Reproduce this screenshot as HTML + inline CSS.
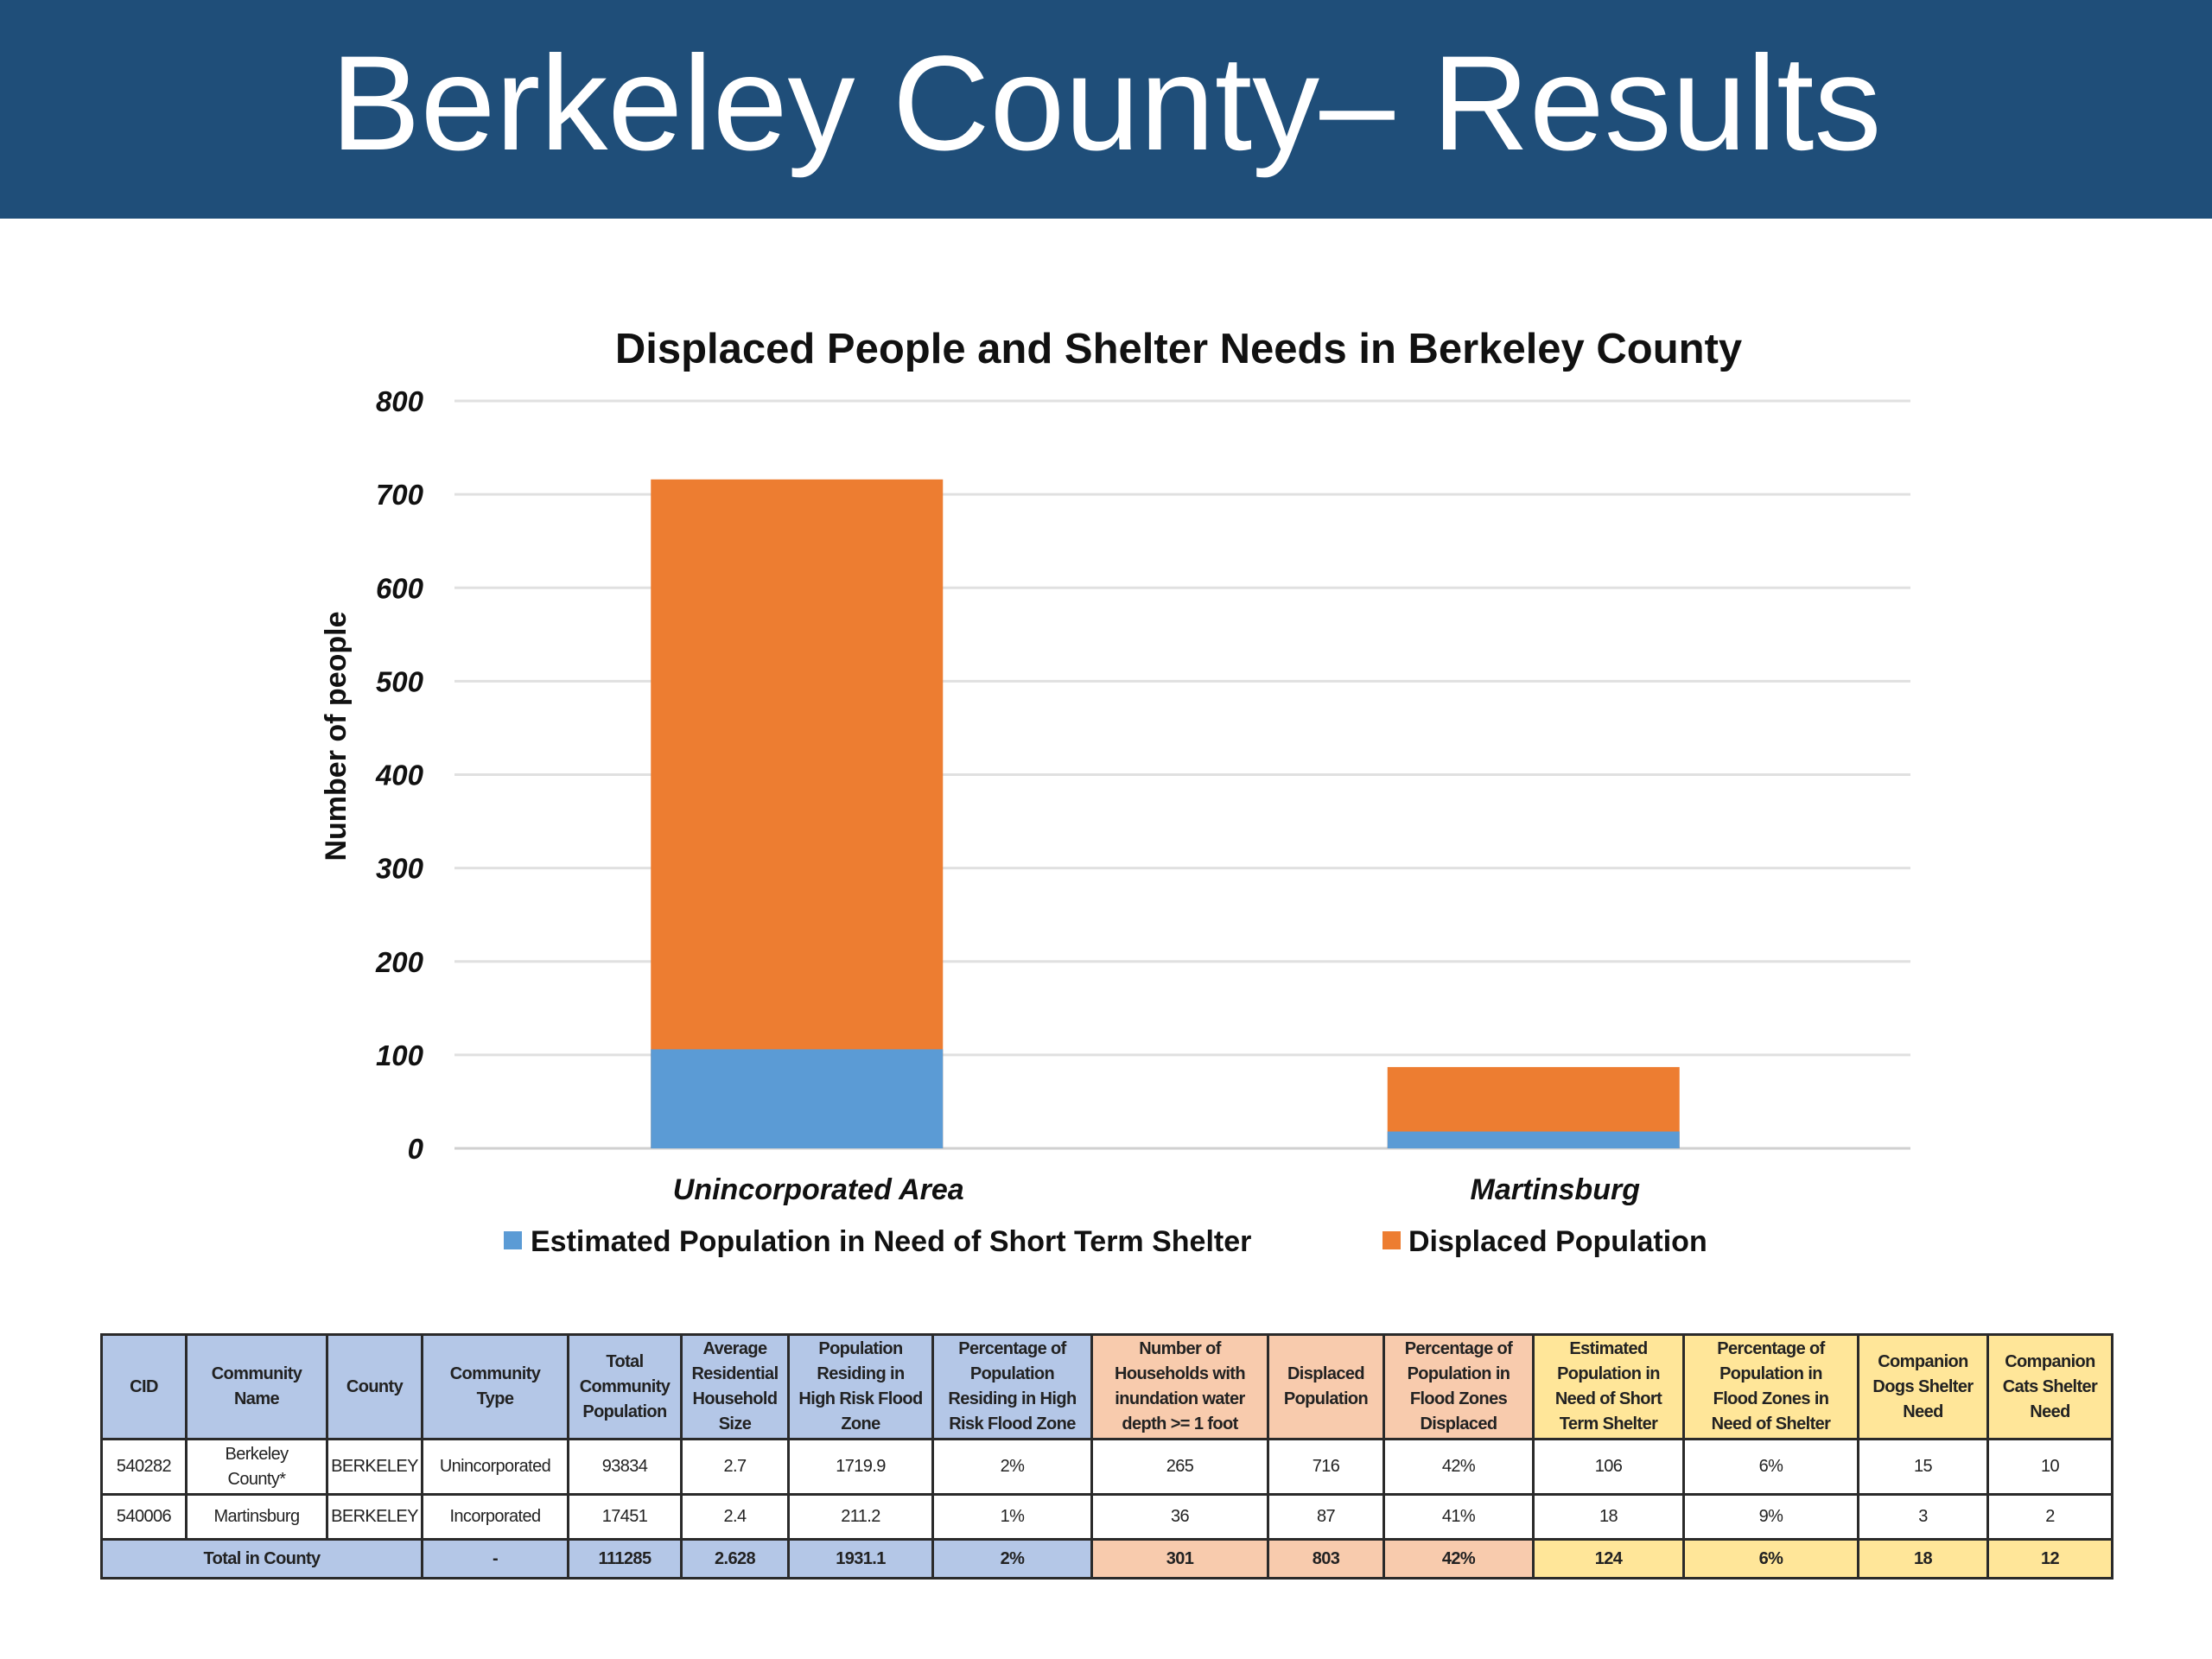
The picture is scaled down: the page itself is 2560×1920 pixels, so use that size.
<!DOCTYPE html>
<html><head><meta charset="utf-8">
<style>
body{margin:0;width:2560px;height:1920px;background:#fff;position:relative;overflow:hidden;font-family:"Liberation Sans",sans-serif}
#hdr{position:absolute;left:0;top:0;width:2560px;height:253px;background:#1f4e79;color:#fff;font-size:156px;text-align:center;line-height:240px}
#tbl{position:absolute;left:116px;top:1543px;border-collapse:collapse;table-layout:fixed;font-size:20px;letter-spacing:-0.6px;color:#222}
#tbl td{border:3px solid #2a2a2a;text-align:center;padding:0;line-height:29px;overflow:hidden;white-space:nowrap}
.b{background:#b4c7e7}.o{background:#f8cbad}.y{background:#ffe699}
.h td{font-weight:bold;height:118px}
.t td{font-weight:bold;height:42px}
</style></head><body>
<div id="hdr">Berkeley County– Results</div>
<svg id="chart" width="2560" height="1530" style="position:absolute;left:0;top:0"></svg>
<table id="tbl">
<colgroup><col style="width:98px"><col style="width:163px"><col style="width:110px"><col style="width:169px"><col style="width:131px"><col style="width:124px"><col style="width:167px"><col style="width:184px"><col style="width:204px"><col style="width:134px"><col style="width:173px"><col style="width:174px"><col style="width:202px"><col style="width:150px"><col style="width:144px"></colgroup>
<tr class="h"><td class="b">CID</td><td class="b">Community<br>Name</td><td class="b">County</td><td class="b">Community<br>Type</td><td class="b">Total<br>Community<br>Population</td><td class="b">Average<br>Residential<br>Household<br>Size</td><td class="b">Population<br>Residing in<br>High Risk Flood<br>Zone</td><td class="b">Percentage of<br>Population<br>Residing in High<br>Risk Flood Zone</td><td class="o">Number of<br>Households with<br>inundation water<br>depth &gt;= 1 foot</td><td class="o">Displaced<br>Population</td><td class="o">Percentage of<br>Population in<br>Flood Zones<br>Displaced</td><td class="y">Estimated<br>Population in<br>Need of Short<br>Term Shelter</td><td class="y">Percentage of<br>Population in<br>Flood Zones in<br>Need of Shelter</td><td class="y">Companion<br>Dogs Shelter<br>Need</td><td class="y">Companion<br>Cats Shelter<br>Need</td></tr>
<tr style="height:64px"><td>540282</td><td>Berkeley<br>County*</td><td>BERKELEY</td><td>Unincorporated</td><td>93834</td><td>2.7</td><td>1719.9</td><td>2%</td><td>265</td><td>716</td><td>42%</td><td>106</td><td>6%</td><td>15</td><td>10</td></tr>
<tr style="height:52px"><td>540006</td><td>Martinsburg</td><td>BERKELEY</td><td>Incorporated</td><td>17451</td><td>2.4</td><td>211.2</td><td>1%</td><td>36</td><td>87</td><td>41%</td><td>18</td><td>9%</td><td>3</td><td>2</td></tr>
<tr class="t"><td class="b" colspan="3">Total in County</td><td class="b">-</td><td class="b">111285</td><td class="b">2.628</td><td class="b">1931.1</td><td class="b">2%</td><td class="o">301</td><td class="o">803</td><td class="o">42%</td><td class="y">124</td><td class="y">6%</td><td class="y">18</td><td class="y">12</td></tr>
</table>
<script>
const categories=["Unincorporated Area","Martinsburg"];
const shelterValues=[106,18];
const displacedValues=[716,87];
const yTicks=[0,100,200,300,400,500,600,700,800];
const svg=document.getElementById('chart');
const NS='http://www.w3.org/2000/svg';
const x0=526,x1=2211,y0=1329,yTop=464,yMax=800;
const y=v=>y0-(v/yMax)*(y0-yTop);
const band=(x1-x0)/categories.length;
const bw=338;
const cx=i=>x0+band*(i+0.5)-25+ i*10;
function el(t,a,txt){const e=document.createElementNS(NS,t);for(const k in a)e.setAttribute(k,a[k]);if(txt!==undefined)e.textContent=txt;svg.appendChild(e);return e;}
let e=el('text',{x:1364,y:420,'font-size':49,'font-weight':'bold','text-anchor':'middle',fill:'#111'},'Displaced People and Shelter Needs in Berkeley County');


yTicks.forEach(t=>{
 const g=el('line',{x1:x0,x2:x1,y1:y(t),y2:y(t),stroke:t===0?'#d0d0d0':'#e0e0e0','stroke-width':3});
 
 
 const l=el('text',{x:490,y:y(t)+12,'font-size':33,'font-weight':'bold','font-style':'italic','text-anchor':'end',fill:'#111'},t);
 
 
});
e=el('text',{x:400,y:852,'font-size':34,'font-weight':'bold','text-anchor':'middle',fill:'#111',transform:'rotate(-90 400 852)'},'Number of people');


categories.forEach((c,i)=>{
 const xc=cx(i);
 const r1=el('rect',{x:xc-bw/2,y:y(displacedValues[i]),width:bw,height:y0-y(displacedValues[i]),fill:'#ed7d31'});
 
 
 const r2=el('rect',{x:xc-bw/2,y:y(shelterValues[i]),width:bw,height:y0-y(shelterValues[i]),fill:'#5b9bd5'});
 
 
 const t=el('text',{x:xc+25,y:1388,'font-size':34,'font-weight':'bold','font-style':'italic','text-anchor':'middle',fill:'#111'},c);
 
 
});
e=el('rect',{x:583,y:1425,width:21,height:21,fill:'#5b9bd5'});


e=el('text',{x:614,y:1448,'font-size':34,'font-weight':'bold',fill:'#111'},'Estimated Population in Need of Short Term Shelter');


e=el('rect',{x:1600,y:1425,width:21,height:21,fill:'#ed7d31'});


e=el('text',{x:1630,y:1448,'font-size':34,'font-weight':'bold',fill:'#111'},'Displaced Population');


</script>
</body></html>
